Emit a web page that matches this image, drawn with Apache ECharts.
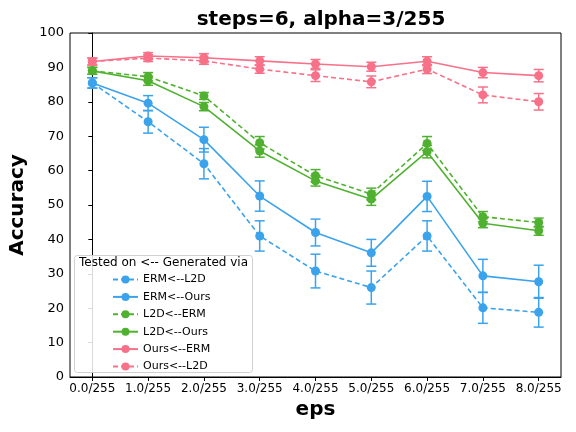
<!DOCTYPE html>
<html>
<head>
<meta charset="utf-8">
<script src="https://cdn.jsdelivr.net/npm/echarts@6/dist/echarts.min.js"></script>
<style>
  html, body { margin: 0; padding: 0; background: #fff; }
  #chart { width: 576px; height: 432px; }
</style>
</head>
<body>
<div id="chart"></div>
<script>
var epsLabels = ['0.0/255', '1.0/255', '2.0/255', '3.0/255', '4.0/255', '5.0/255', '6.0/255', '7.0/255', '8.0/255'];
var yTicks = [0, 10, 20, 30, 40, 50, 60, 70, 80, 90, 100];

var seriesNames = ['ERM<--L2D', 'ERM<--Ours', 'L2D<--ERM', 'L2D<--Ours', 'Ours<--ERM', 'Ours<--L2D'];

// mean accuracy per eps
var ermFromL2d   = [85.5, 74.2, 62.0, 41.0, 30.8, 26.0, 41.0, 20.1, 18.8];
var ermFromOurs  = [85.5, 79.6, 69.0, 52.6, 42.0, 36.1, 52.5, 29.4, 27.7];
var l2dFromErm   = [89.0, 87.3, 81.7, 68.1, 58.5, 53.2, 67.9, 46.6, 44.9];
var l2dFromOurs  = [89.0, 86.1, 78.6, 65.7, 57.0, 51.7, 65.5, 44.7, 42.5];
var oursFromErm  = [91.7, 93.3, 92.8, 91.9, 91.0, 90.2, 91.8, 88.5, 87.6];
var oursFromL2d  = [91.7, 92.7, 91.9, 89.5, 87.6, 85.8, 89.5, 82.0, 80.0];

// error bar half widths
var ermFromL2dErr  = [1.5, 3.3, 4.4, 4.4, 4.9, 4.8, 4.4, 4.5, 4.3];
var ermFromOursErr = [1.5, 2.2, 3.6, 4.4, 3.9, 3.9, 4.4, 4.8, 4.8];
var l2dFromErmErr  = [1.0, 1.2, 1.0, 1.8, 1.8, 1.7, 2.0, 1.5, 1.3];
var l2dFromOursErr = [1.0, 1.3, 1.2, 1.8, 1.5, 1.8, 1.8, 1.3, 1.3];
var oursFromErmErr = [1.0, 1.0, 1.2, 1.2, 1.3, 1.3, 1.3, 1.5, 1.8];
var oursFromL2dErr = [1.0, 1.0, 1.0, 1.2, 1.7, 1.7, 1.3, 2.3, 2.4];

var means = [ermFromL2d, ermFromOurs, l2dFromErm, l2dFromOurs, oursFromErm, oursFromL2d];
var errs = [ermFromL2dErr, ermFromOursErr, l2dFromErmErr, l2dFromOursErr, oursFromErmErr, oursFromL2dErr];
var colors = ['#3ba3ec', '#3ba3ec', '#50b131', '#50b131', '#f77189', '#f77189'];
var dashed = [true, false, true, false, false, true];

var chart = echarts.init(document.getElementById('chart'));
var FONT = 'DejaVu Sans';

var series = [];
means.forEach(function (vals, s) {
  // error bars
  series.push({
    type: 'custom',
    z: 2,
    silent: true,
    data: vals.map(function (v, i) { return [i, v - errs[s][i], v + errs[s][i]]; }),
    renderItem: function (params, api) {
      var x = api.value(0);
      var lo = api.coord([x, api.value(1)]);
      var hi = api.coord([x, api.value(2)]);
      var w = 5;
      var st = { stroke: colors[s], lineWidth: 1.5 };
      return {
        type: 'group',
        children: [
          { type: 'line', shape: { x1: lo[0], y1: lo[1], x2: hi[0], y2: hi[1] }, style: st },
          { type: 'line', shape: { x1: hi[0] - w, y1: hi[1], x2: hi[0] + w, y2: hi[1] }, style: st },
          { type: 'line', shape: { x1: lo[0] - w, y1: lo[1], x2: lo[0] + w, y2: lo[1] }, style: st }
        ]
      };
    }
  });
  series.push({
    name: seriesNames[s],
    type: 'line',
    z: 3,
    symbol: 'circle',
    symbolSize: 9,
    data: vals.map(function (v, i) { return [i, v]; }),
    itemStyle: { color: colors[s] },
    lineStyle: { color: colors[s], width: 1.6, type: dashed[s] ? [5, 3] : 'solid' },
    animation: false
  });
});

var option = {
  animation: false,
  title: {
    text: 'steps=6, alpha=3/255',
    left: 316,
    top: 5,
    textAlign: 'center',
    textStyle: { fontFamily: FONT, fontWeight: 'bold', fontSize: 20, color: '#000' }
  },
  grid: {
    left: 70, right: 15, top: 33, bottom: 55,
    show: true, borderColor: '#000', borderWidth: 1
  },
  xAxis: {
    type: 'value',
    min: -0.4,
    max: 8.4,
    name: 'eps',
    nameLocation: 'middle',
    nameGap: 23,
    nameTextStyle: { fontFamily: FONT, fontWeight: 'bold', fontSize: 20, color: '#000' },
    splitLine: { show: false },
    axisLine: { lineStyle: { color: '#000' } },
    axisTick: { length: 4, customValues: [0, 1, 2, 3, 4, 5, 6, 7, 8], lineStyle: { color: '#000' } },
    axisLabel: {
      customValues: [0, 1, 2, 3, 4, 5, 6, 7, 8],
      formatter: function (v) { return epsLabels[Math.round(v)]; },
      fontFamily: FONT, fontSize: 12, color: '#000', margin: 6
    }
  },
  yAxis: {
    type: 'value',
    min: 0,
    max: 100,
    interval: 10,
    name: 'Accuracy',
    nameLocation: 'middle',
    nameGap: 37,
    nameTextStyle: { fontFamily: FONT, fontWeight: 'bold', fontSize: 20, color: '#000' },
    splitLine: { show: false },
    axisLine: { show: true, lineStyle: { color: '#000' } },
    axisTick: { show: true, length: 4, lineStyle: { color: '#000' } },
    axisLabel: {
      formatter: function (v) { return yTicks.indexOf(v) >= 0 ? String(v) : ''; },
      fontFamily: FONT, fontSize: 13, color: '#000', margin: 6
    }
  },
  graphic: [
    {
      type: 'rect',
      z: 10,
      shape: { x: 74.5, y: 255.5, width: 178, height: 117, r: 3 },
      style: { fill: 'rgba(255,255,255,0.85)', stroke: '#d0d0d0', lineWidth: 1 }
    },
    {
      type: 'text',
      z: 11,
      x: 79,
      y: 257,
      style: { text: 'Tested on <-- Generated via', fontFamily: FONT, fontSize: 12, fill: '#000' }
    }
  ],
  legend: {
    z: 20,
    orient: 'vertical',
    left: 112,
    top: 274,
    itemWidth: 25,
    itemHeight: 10,
    itemGap: 6.4,
    padding: 0,
    data: seriesNames,
    textStyle: { fontFamily: FONT, fontSize: 11, color: '#000' }
  },
  series: series
};

chart.setOption(option);
</script>
</body>
</html>
